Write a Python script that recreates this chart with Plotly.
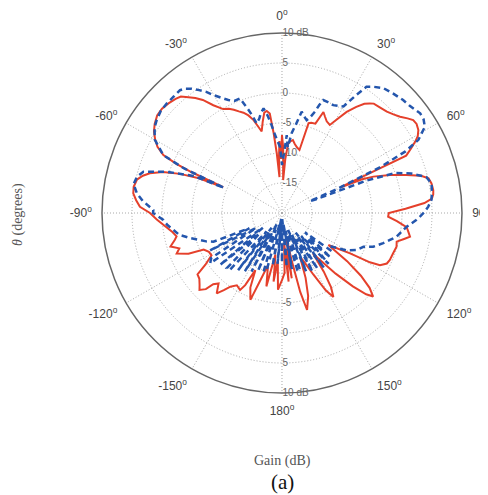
import plotly.graph_objects as go

# ---- data (theta in degrees, gain in dB) ----
red_theta = [-180, -177, -175, -173, -171, -168, -165, -162, -160, -157, -155, -153, -151.4, -148, -145, -143,
             -140.9, -138, -136, -135, -133, -131, -128.5, -126, -124, -121, -118, -115, -113.5, -111, -109,
             -106.7, -104, -102.5, -100, -97, -93, -90, -87.5, -85, -82.5, -80, -77, -75, -73.3, -71, -69,
             -67.3, -66.3, -65.7, -65, -64, -62, -60, -57.5, -55, -52, -49, -46, -43, -41, -39, -37, -35,
             -32.5, -29.5, -27, -25, -23, -21, -19, -17, -15.5, -14, -12, -10, -8.5, -7, -6, -5, -4, -3, -2,
             -1, 0, 1, 2, 3.5, 5, 6.5, 8.5, 10.5, 13, 15.5, 16.5, 18, 20.5, 22.3, 24, 26, 28.5, 30.5, 32.6,
             35, 37, 38.7, 40, 43, 46, 48.5, 50.8, 53, 54.7, 56.5, 58.7, 60.5, 61.8, 63.5, 65.2, 66.3, 67.2,
             68.3, 70.6, 73, 75, 76.7, 78.8, 81.4, 83, 84.5, 86, 88, 90, 92, 94, 96.5, 98, 100.5, 102, 104,
             106.4, 109.9, 113.5, 115.7, 118, 119.3, 120.7, 124.6, 126.5, 128.5, 130.5, 132.5, 134, 136,
             138.5, 141, 142.5, 144.5, 146.5, 148.5, 150.5, 153, 155.5, 157.6, 160, 162.5, 165.5, 167,
             168.5, 170, 171.5, 173, 174.5, 176, 177.5, 180]
red_gain = [-8.8, -7.2, -12, -8.5, -13, -7.5, -11, -8, -4.6, -6.5, -9.5, -6.5, -5.4, -5.8, -5.0, -3.9,
            -2.75, -4.2, -3.5, -2.05, -1.2, -1.8, -2.4, -2.6, -4.6, -6.3, -6.2, -5.6, -3.0, -1.2, -1.9,
            -0.6, -1.6, -2.0, -1.5, -0.6, 0.9, 2.0, 3.7, 4.4, 5.0, 5.1, 4.8, 4.0, 3.0, 1.0, -1.8,
            -5.0, -9.3, -3.5, -0.5, 2.0, 3.5, 4.4, 5.3, 5.9, 6.4, 6.5, 6.3, 6.0, 5.7, 4.8, 4.0, 3.0,
            1.3, -0.1, -0.5, -1.0, -1.6, -2.1, -2.8, -3.8, -5.0, -6.0, -4.5, -3.0, -2.8, -3.3, -6.5, -10, -14, -10.5, -8,
            -11, -7, -9, -14.5, -11, -8.5, -8, -7.7, -8.3, -8.8, -9.1, -4.4, -4.2, -4.1, -1.8, -2.4, -3.0, -3.3, -1.8, 0.0,
            1.6, 2.8, 3.4, 3.8, 4.0, 4.3, 4.8, 5.4, 6.2, 6.8, 6.9, 6.6, 6.0, 5.2, 4.0, 2.8, -9.4, -5.5,
            -3.6, -0.9, 1.7, 4.0, 5.1, 5.4, 5.5, 5.4, 5.1, 3.8, 0.6, -2.2, -2.3, -0.8, 0.9, 1.2, 1.7, 0.8, -0.3,
            -0.1, -0.3, -0.4, -0.6, -1.5, -3.2, -6.8, -10.6, -6.5, -3.2, -0.8, 0.6, -0.5, -3.0,
            -6.5, -10, -11.5, -8, -5.2, -3.6, -5.2, -8.5, -11, -12.1, -8.5, -5.5, -3.3, -6.5,
            -12, -16, -9, -14, -8.5, -15, -10, -8.8]

blue_theta = [-180, -177.5, -175, -172.5, -170, -167.5, -165, -162.5, -160, -157.5, -155, -152.5, -150,
              -147.5, -145, -142.5, -140, -137.5, -135, -132.5, -130, -127.5, -125, -122.5, -120, -117.5,
              -115, -112.7, -110.5, -108.2, -105, -102, -98.9, -96, -93.4, -90, -88.7, -85, -82.3, -79,
              -76, -73.4, -70.3, -68.5, -67.3, -66.5, -65.5, -64, -60, -56, -53.4, -50, -46.5, -43, -39.7,
              -38, -36, -34, -32, -30.2, -28, -25.4, -23, -20.1, -18, -17, -15.8, -13.5, -12, -10, -8.5,
              -7, -5, -3.5, -1.7, 0, 2, 3.5, 5, 7, 9, 11, 13, 14.9, 16.5, 18, 19, 20.1, 22.5, 25.4, 28,
              30, 32, 33.8, 36, 39, 43, 47, 50, 54.2, 56.5, 58.9, 61.8, 63.5, 65, 66.5, 67, 68, 69, 70.5,
              73, 76, 79, 82.5, 85, 87.5, 89.5, 91.5, 93, 96.3, 98, 101.7, 104, 106.6, 110.3, 112.5, 116.3,
              120, 124, 127.5, 130, 132.5, 135, 137.5, 140, 142.5, 145, 147.5, 150, 152.5, 155, 157.5, 160,
              162.5, 165, 167.5, 170, 172.5, 175, 177.5, 180]
blue_gain = [-12, -18, -11.5, -19, -11, -18, -9.9, -10, -17, -9.5, -18, -9, -16,
             -8.5, -17, -8, -16, -7.2, -7, -15, -6.5, -16, -5.4, -6, -15, -6.5,
             -14, -7.6, -6.5, -5.6, -4, -2.5, -1.7, -0.8, -0.2, 1.5, 1.45, 3.3, 4.4, 5.2,
             4.9, 4.1, 0.4, -2.5, -4, -9.5, -2, 2, 4.5, 5.6, 6.0, 6.4, 6.5, 6.5, 6.6,
             6.3, 5.6, 4.7, 3.8, 2.75, 1.8, 0.85, 0.3, 0.35, -1.9, -3, -4.5, -3.8, -3, -2.3, -3.5,
             -5, -7, -8, -9, -12, -10, -7, -9, -6.5, -5, -2.8, -3.5, -4, -3.3, -2.25, -1, 0.05, 0, -0.1, 0.2,
             0.5, 3, 5.3, 6.0, 6.8, 7.2, 7.6, 7.8, 8.4, 8.3, 7.8, 5.8, 3, -2, -10, -15, -14, -5, 0,
             2.5, 4.8, 5.4, 5.2, 5.0, 4.4, 3.8, 3.0, 2.4, 0.9, 0.4, -0.5, -1.45, -2.4, -3.8, -5.3, -6.1,
             -7.5, -10, -9.5, -15, -9, -14, -8.5, -15, -8.5, -16, -9, -15, -9, -16, -9.5, -17,
             -10, -10, -17, -10.5, -18, -11, -19, -12]

angle_ticks = [0, 30, 60, 90, 120, 150, 180, 210, 240, 270, 300, 330]
angle_labels = ["0", "30", "60", "90", "120", "150", "180", "-150", "-120", "-90", "-60", "-30"]
r_ticks_top = [-15, -10, -5, 0, 5, 10]
r_labels_top = ["-15", "-10", "-5", "0", "5", "10 dB"]
r_ticks_bottom = [-5, 0, 5, 10]
r_labels_bottom = ["-5", "0", "5", "10 dB"]

RED = "#e5402b"
BLUE = "#2456ad"
GRID = "#a8a8a8"

fig = go.Figure()
fig.add_trace(go.Scatterpolar(r=red_gain, theta=red_theta, mode="lines",
                              line=dict(color=RED, width=2), subplot="polar", showlegend=False))
fig.add_trace(go.Scatterpolar(r=blue_gain, theta=blue_theta, mode="lines",
                              line=dict(color=BLUE, width=2.5, dash="6px,4px"), subplot="polar",
                              showlegend=False))
fig.add_trace(go.Scatterpolar(r=[-20], theta=[0], mode="markers", marker=dict(opacity=0),
                              subplot="polar2", showlegend=False, hoverinfo="skip"))

dom = dict(x=[0.1926, 0.9303], y=[0.2222, 0.9495])
tickfont_ang = dict(family="Liberation Sans, Arial, sans-serif", size=12, color="#444")
tickfont_rad = dict(family="Liberation Sans, Arial, sans-serif", size=10, color="#666")
serif = "Liberation Serif, Times New Roman, serif"

fig.update_layout(
    width=488, height=495,
    margin=dict(l=0, r=0, t=0, b=0),
    paper_bgcolor="white",
    polar=dict(
        domain=dom, bgcolor="white",
        angularaxis=dict(rotation=90, direction="clockwise", tickmode="array",
                         tickvals=angle_ticks,
                         ticktext=[t + "<sup>o</sup>" for t in angle_labels],
                         showline=True, linecolor="#666", linewidth=1.5,
                         showgrid=True, gridcolor=GRID, griddash="1px,2px", gridwidth=1,
                         ticks="outside", ticklen=7, tickcolor="rgba(0,0,0,0)",
                         tickfont=tickfont_ang),
        radialaxis=dict(range=[-20, 10], tickmode="array", tickvals=r_ticks_top,
                        ticktext=r_labels_top, angle=90, side="clockwise", tickangle=90,
                        showline=False, showgrid=True, gridcolor=GRID, griddash="1px,2px",
                        gridwidth=1, ticks="", tickfont=tickfont_rad),
    ),
    polar2=dict(
        domain=dom, bgcolor="rgba(0,0,0,0)",
        angularaxis=dict(rotation=90, direction="clockwise", showline=False, showgrid=False,
                         showticklabels=False, ticks=""),
        radialaxis=dict(range=[-20, 10], tickmode="array", tickvals=r_ticks_bottom,
                        ticktext=r_labels_bottom, angle=270, side="counterclockwise", tickangle=-90,
                        showline=False, showgrid=False, ticks="", tickfont=tickfont_rad),
    ),
    annotations=[
        dict(text="<i>θ</i> (degrees)", x=0.0205, y=0.582, xref="paper", yref="paper",
             xanchor="center", yanchor="middle", textangle=-90, showarrow=False,
             font=dict(family=serif, size=14, color="#555")),
        dict(text="Gain (dB)", x=0.5635, y=0.0848, xref="paper", yref="paper",
             xanchor="center", yanchor="middle", showarrow=False,
             font=dict(family=serif, size=14, color="#555")),
        dict(text="(a)", x=0.5635, y=0.0424, xref="paper", yref="paper",
             xanchor="center", yanchor="middle", showarrow=False,
             font=dict(family=serif, size=21, color="#111")),
    ],
)

fig.write_html("out.html")
